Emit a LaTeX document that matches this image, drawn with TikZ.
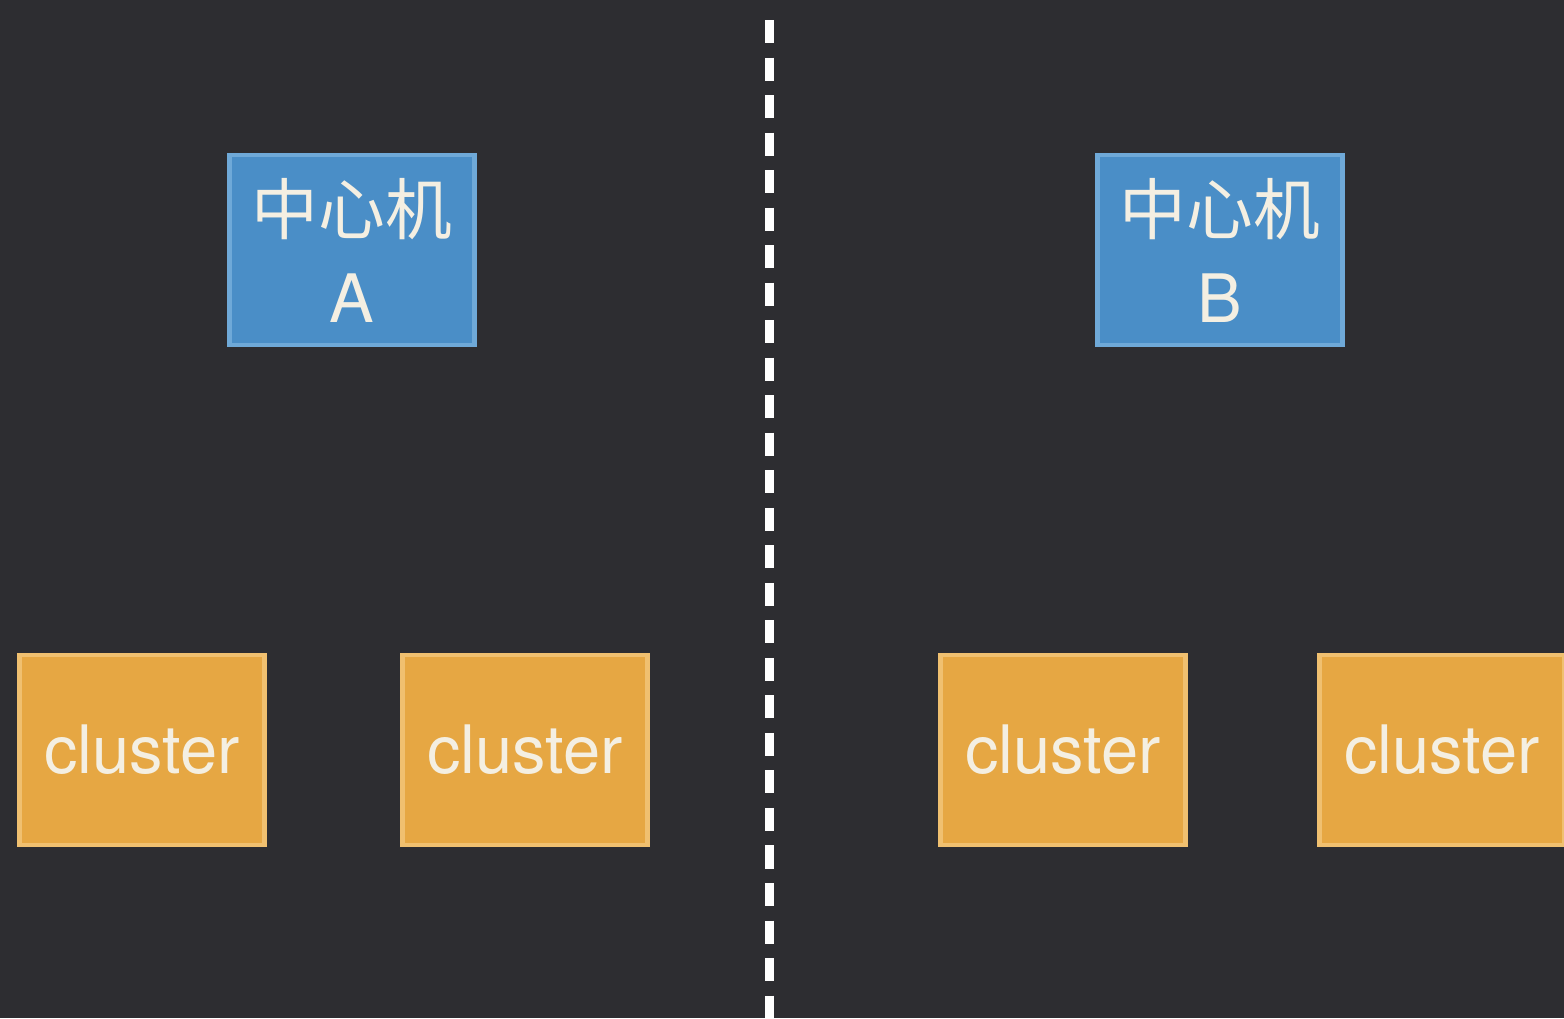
\documentclass[tikz,border=0pt]{standalone}
\usepackage{fontspec}
\setmainfont{TeX Gyre Heros}
\newfontfamily\cjk{Noto Sans CJK SC}
\usepackage{xcolor}
\usepackage{tikz}
\usetikzlibrary{positioning}

\definecolor{bgdark}{HTML}{2D2D31}
\definecolor{hostblue}{HTML}{4A8EC7}
\definecolor{hostedge}{HTML}{6FA9D8}
\definecolor{clorange}{HTML}{E6A743}
\definecolor{cledge}{HTML}{F0C070}
\definecolor{txtlight}{HTML}{F4EFE2}

\begin{document}
\begin{tikzpicture}[x=0.01cm,y=-0.01cm,
  host/.style={rectangle,fill=hostblue,draw=hostedge,line width=1.2pt,
    minimum width=2.45cm,minimum height=1.9cm,align=center,text=txtlight,
    font=\fontsize{19}{25}\selectfont},
  cl/.style={rectangle,fill=clorange,draw=cledge,line width=1.2pt,
    minimum width=2.45cm,minimum height=1.9cm,text=txtlight,
    font=\fontsize{19}{23}\selectfont}]
\useasboundingbox(0,0)rectangle(1564,1018);
\fill[bgdark](0,0)rectangle(1564,1018);
% divider
\coordinate(divtop)at(769,20);
\coordinate(divbot)at(769,1018);
\draw[white,line width=0.09cm,dash pattern=on 0.23cm off 0.145cm](divtop)--(divbot);
% hosts
\node[host](hostA)at(352,250){{\cjk 中心机}\\A};
\node[host](hostB)at(1220,250){{\cjk 中心机}\\B};
% clusters
\node[cl](clA1)at(142,750){cluster};
\node[cl](clA2)at(525,750){cluster};
\node[cl](clB1)at(1063,750){cluster};
\node[cl](clB2)at(1442,750){cluster};
\end{tikzpicture}
\end{document}
